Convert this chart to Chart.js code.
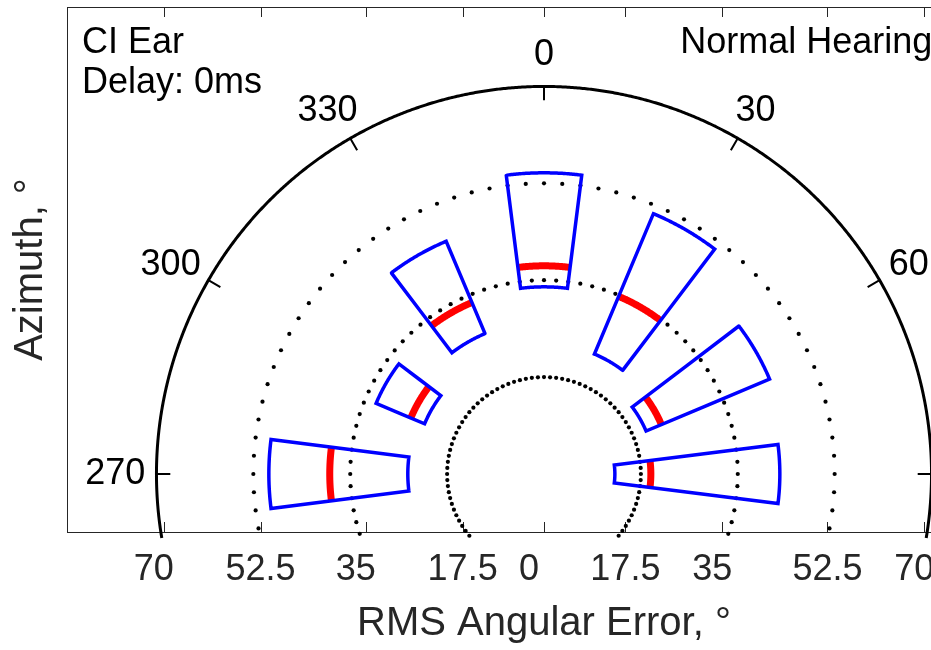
<!DOCTYPE html>
<html>
<head>
<meta charset="utf-8">
<script src="https://cdn.jsdelivr.net/npm/chart.js@4.4.1/dist/chart.umd.min.js"></script>
<style>
  html, body { margin: 0; padding: 0; overflow: hidden; background: #fff; }
  #wrap { width: 931px; height: 650px; overflow: hidden; position: relative; }
  canvas { display: block; }
</style>
</head>
<body>
<div id="wrap"><canvas id="chart" width="1080" height="650"></canvas></div>
<script>
// Loudspeaker azimuths (degrees, clockwise from straight ahead)
const azimuths = [270, 300, 330, 0, 30, 60, 90];
// RMS angular error at each azimuth (degrees): quartiles and median
const lowerQuartile = [24.6, 23.4, 27.5, 33.8, 23.5, 20.0, 12.8];
const medianError   = [38.7, 26.1, 33.6, 37.6, 34.8, 23.0, 19.3];
const upperQuartile = [49.7, 32.9, 45.6, 54.4, 51.0, 44.2, 42.6];

// Dotted reference rings and the solid outer ring (error, degrees)
const ringRadii = [17.5, 35, 52.5];
const outerRadius = 70;

// Azimuth ticks on the outer ring
const azimuthTicks = [-90, -60, -30, 0, 30, 60, 90];
const azimuthTickLabels = ['270', '300', '330', '0', '30', '60', '90'];

// Bottom axis ticks and their (space padded) labels
const errorTickValues = [-68.7, -51.2, -32.2, -14.7, 0, 14.7, 32.2, 51.2, 68.7];
const errorTickLabels = ['70  ', '52.5', '35  ', '17.5', '0   ', '17.5', '35  ', '52.5', '70  '];

const FONT = '"Liberation Sans", Arial, Helvetica, sans-serif';
const BOX_HALF_WIDTH = 7.2;   // angular half width of each box, degrees
const FLOOR_Y = -11.56;       // rings are cut below this height
const DOT_STEP = 3.6;         // angular spacing of ring dots, degrees

function polar(azDeg, r) {
  const t = azDeg * Math.PI / 180;
  return { x: r * Math.sin(t), y: r * Math.cos(t) };
}

function arc(a0, a1, r, step) {
  const n = Math.max(1, Math.ceil(Math.abs(a1 - a0) / step));
  const pts = [];
  for (let i = 0; i <= n; i++) pts.push(polar(a0 + (a1 - a0) * i / n, r));
  return pts;
}

function boxOutline(az, lo, hi) {
  const a0 = az - BOX_HALF_WIDTH, a1 = az + BOX_HALF_WIDTH;
  const pts = arc(a0, a1, lo, 0.5).concat(arc(a1, a0, hi, 0.5));
  pts.push(pts[0], pts[1]);
  return pts;
}

function ringDots(r) {
  const pts = [];
  for (let k = -60; k <= 60; k++) {
    const p = polar(k * DOT_STEP, r);
    if (p.y >= FLOOR_Y) pts.push(p);
  }
  return pts;
}

// shared settings for drawn curves (tiny tension keeps the full path for every point)
const curve = { showLine: true, pointRadius: 0, fill: false, clip: false, tension: 0.0001, capBezierPoints: false };

const datasets = [];

// boxes (blue outlines)
azimuths.forEach((az, i) => {
  datasets.push(Object.assign({}, curve, {
    data: boxOutline(az, lowerQuartile[i], upperQuartile[i]),
    borderColor: '#0000FF', borderWidth: 3.5, borderJoinStyle: 'miter', order: 0
  }));
});

// medians (red arcs)
azimuths.forEach((az, i) => {
  datasets.push(Object.assign({}, curve, {
    data: arc(az - BOX_HALF_WIDTH, az + BOX_HALF_WIDTH, medianError[i], 0.5),
    borderColor: '#FF0000', borderWidth: 7, borderCapStyle: 'butt', order: 1
  }));
});

// azimuth tick marks on the outer ring
azimuthTicks.forEach(az => {
  datasets.push(Object.assign({}, curve, {
    data: [polar(az, outerRadius - 2.5), polar(az, outerRadius)],
    borderColor: '#000', borderWidth: 2, order: 2
  }));
});

// solid outer ring
const outerEnd = Math.acos(FLOOR_Y / outerRadius) * 180 / Math.PI;
datasets.push(Object.assign({}, curve, {
  data: arc(-outerEnd, outerEnd, outerRadius, 0.5),
  borderColor: '#000', borderWidth: 3, order: 3
}));

// dotted rings
ringRadii.forEach(r => {
  datasets.push({
    data: ringDots(r),
    showLine: false, pointRadius: 2.1, pointBorderWidth: 0,
    pointBackgroundColor: '#000', pointBorderColor: '#000', clip: false, order: 4
  });
});

const decorations = {
  id: 'decorations',
  beforeDatasetsDraw(chart) {
    const { ctx, chartArea: a, scales: { x } } = chart;
    ctx.save();
    ctx.strokeStyle = '#262626';
    ctx.lineWidth = 1;
    ctx.strokeRect(a.left + 0.5, a.top + 0.5, a.right - a.left, a.bottom - a.top);
    ctx.beginPath();
    errorTickValues.forEach(v => {
      const px = Math.round(x.getPixelForValue(v)) + 0.5;
      ctx.moveTo(px, a.top);
      ctx.lineTo(px, a.top + 10);
      ctx.moveTo(px, a.bottom);
      ctx.lineTo(px, a.bottom - 10);
    });
    ctx.stroke();
    ctx.restore();
  },
  afterDatasetsDraw(chart) {
    const { ctx, scales: { x, y } } = chart;
    ctx.save();
    ctx.fillStyle = '#000';
    ctx.font = '36px ' + FONT;
    // azimuth labels just outside the outer ring
    ctx.textAlign = 'center';
    ctx.textBaseline = 'middle';
    azimuthTicks.forEach((az, i) => {
      const label = azimuthTickLabels[i];
      const p = polar(az, 72);
      const px = x.getPixelForValue(p.x), py = y.getPixelForValue(p.y);
      const t = az * Math.PI / 180;
      const w = ctx.measureText(label).width + 10 * Math.abs(Math.cos(t));
      const h = 40;
      ctx.fillText(label, px + Math.sin(t) * w / 2, py - Math.cos(t) * h / 2);
    });
    // panel notes
    ctx.textAlign = 'left';
    ctx.textBaseline = 'alphabetic';
    ctx.fillText('CI Ear', x.getPixelForValue(-83.45), y.getPixelForValue(76.0));
    ctx.fillText('Delay: 0ms', x.getPixelForValue(-83.45), y.getPixelForValue(68.8));
    ctx.fillText('Normal Hearing', x.getPixelForValue(24.6), y.getPixelForValue(76.0));
    ctx.restore();
  }
};

new Chart(document.getElementById('chart'), {
  type: 'scatter',
  data: { datasets },
  options: {
    responsive: false,
    animation: false,
    events: [],
    layout: { padding: { top: 7, right: 59, left: 0, bottom: 0 } },
    plugins: { legend: { display: false }, tooltip: { enabled: false } },
    scales: {
      x: {
        type: 'linear', min: -86.16, max: 86.16,
        afterBuildTicks: s => { s.ticks = errorTickValues.map(v => ({ value: v })); },
        afterFit: s => { s.height = 118; s.paddingLeft = 0; s.paddingRight = 0; },
        grid: { display: false, drawTicks: false },
        border: { display: false },
        ticks: {
          autoSkip: false, maxRotation: 0, minRotation: 0, padding: 16,
          color: '#262626', font: { family: FONT, size: 36 },
          callback: (v, i) => errorTickLabels[i]
        },
        title: {
          display: true, text: 'RMS Angular Error, °', color: '#262626',
          font: { family: FONT, size: 40 }, padding: { top: 0, bottom: 2 }
        }
      },
      y: {
        type: 'linear', min: -10.48, max: 84.35,
        afterFit: s => { s.width = 67; },
        grid: { display: false, drawTicks: false },
        border: { display: false },
        ticks: { display: false },
        title: {
          display: true, text: 'Azimuth, °', color: '#262626',
          font: { family: FONT, size: 40 }, padding: { top: 7, bottom: 0 }
        }
      }
    }
  },
  plugins: [decorations]
});
</script>
</body>
</html>
